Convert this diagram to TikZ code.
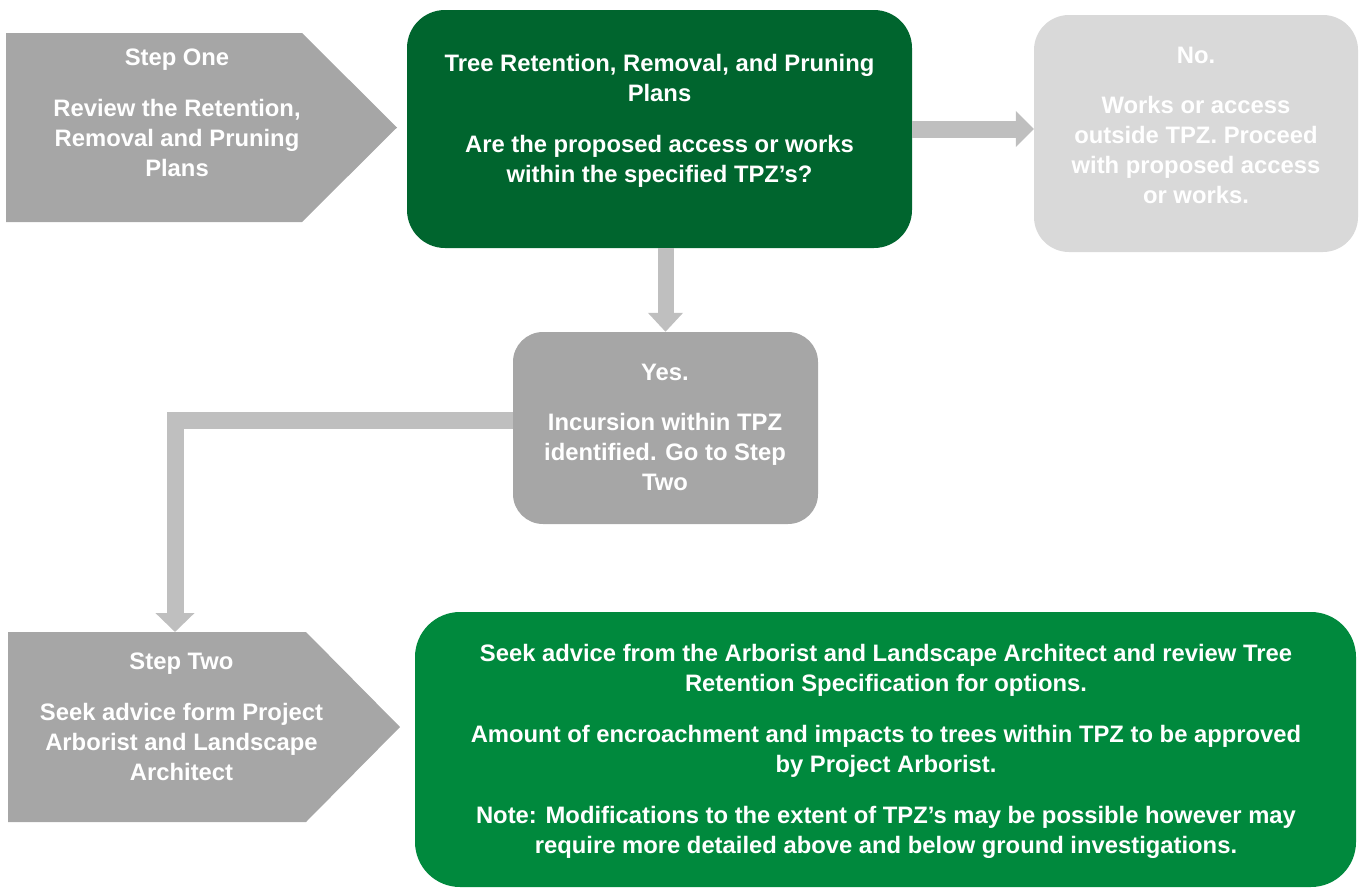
\documentclass[tikz,border=0pt]{standalone}
\usepackage{fontspec}
\setmainfont{Liberation Sans}
\usetikzlibrary{arrows.meta}
\definecolor{stepgray}{HTML}{A6A6A6}
\definecolor{arrowgray}{HTML}{BFBFBF}
\definecolor{lightbox}{HTML}{D9D9D9}
\definecolor{darkgreen}{HTML}{00652E}
\definecolor{midgreen}{HTML}{00893D}
\begin{document}
\begin{tikzpicture}[x=1pt,y=-1pt,
 box/.style={rectangle, inner sep=0pt, draw=none},
 txt/.style={text=white, font=\bfseries\fontsize{23.8}{30}\selectfont, align=center, inner sep=0pt},
 flow/.style={draw=arrowgray, line width=17pt, -{Triangle[width=35pt,length=18pt]}},
]
\useasboundingbox (0,0) rectangle (1363,889);
% step one
\fill[stepgray] (6,33) -- (302,33) -- (397,127.5) -- (302,222) -- (6,222) -- cycle;
\node[txt] (s1) at (177,112.5) {Step One\\[21pt]Review the Retention,\\Removal and Pruning\\Plans};
% question box
\node[box, fill=darkgreen, minimum width=505pt, minimum height=238pt, rounded corners=38pt] (q) at (659.5,129) {};
\node[txt] (qt) at (659.5,120.5) {Tree Retention, Removal, and Pruning\\Plans\\[21pt]Are the proposed access or works\\within the specified TPZ’s?};
% no box
\node[box, fill=lightbox, minimum width=324pt, minimum height=237pt, rounded corners=35pt] (no) at (1196,133.5) {};
\node[txt] (not) at (1196,125) {No.\\[20pt]Works or access\\outside TPZ. Proceed\\with proposed access\\or works.};
% yes box
\node[box, fill=stepgray, minimum width=305pt, minimum height=192pt, rounded corners=30pt] (yes) at (665.5,428) {};
\node[txt] (yest) at (665,427) {Yes.\\[20pt]Incursion within TPZ\\identified. Go to Step\\Two};
% step two
\fill[stepgray] (8,632) -- (306,632) -- (400,727) -- (306,822) -- (8,822) -- cycle;
\coordinate (s2top) at (175,632);
\node[txt] (s2) at (181.5,717) {Step Two\\[21pt]Seek advice form Project\\Arborist and Landscape\\Architect};
% advice box
\node[box, fill=midgreen, minimum width=941pt, minimum height=275pt, rounded corners=45pt] (adv) at (885.5,749.5) {};
\node[txt] (advt) at (886,751) {Seek advice from the Arborist and Landscape Architect and review Tree\\Retention Specification for options.\\[21pt]Amount of encroachment and impacts to trees within TPZ to be approved\\by Project Arborist.\\[21pt]Note: Modifications to the extent of TPZ’s may be possible however may\\require more detailed above and below ground investigations.};
% connectors
\draw[flow] (q.east) -- (no.west |- q.east);
\draw[flow, line width=16pt, -{Triangle[width=34pt,length=19pt]}] (yes.north |- q.south) -- (yes.north);
\draw[flow, -{Triangle[width=38pt,length=19pt]}] ([yshift=8pt]yes.west) -| (s2top);
\end{tikzpicture}
\end{document}
